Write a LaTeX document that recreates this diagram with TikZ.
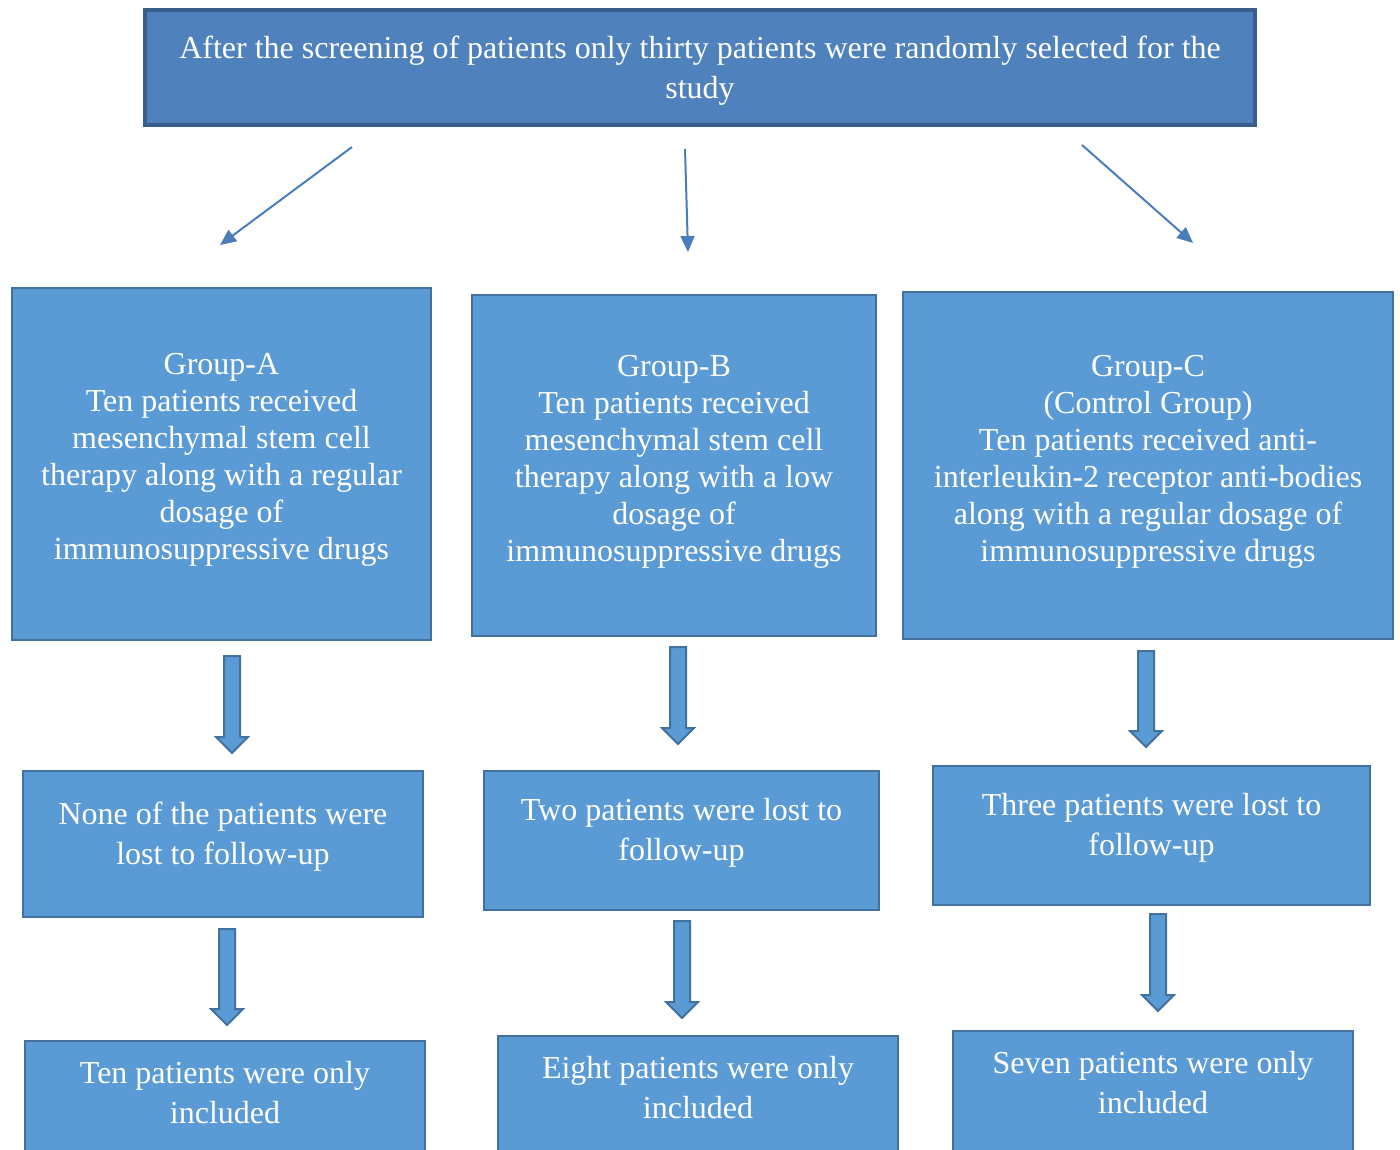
\documentclass[tikz,border=0pt]{standalone}
\usepackage{fontspec}
\setmainfont{Liberation Serif}
\usetikzlibrary{arrows.meta}

\definecolor{topfill}{HTML}{4F81BD}
\definecolor{topline}{HTML}{385D8A}
\definecolor{boxfill}{HTML}{5B9BD5}
\definecolor{boxline}{HTML}{41719C}
\definecolor{arrline}{HTML}{4A7EBB}

\begin{document}
\begin{tikzpicture}[
    x = 0.5pt, y = -0.5pt,
    topbox/.style = {
      rectangle, draw = topline, fill = topfill, line width = 2pt,
      text = white, align = center, inner sep = 0pt,
      font = \fontsize{16}{20}\selectfont
    },
    grpbox/.style = {
      rectangle, draw = boxline, fill = boxfill, line width = 1pt,
      text = white, align = center, inner sep = 0pt,
      font = \fontsize{16}{18.5}\selectfont
    },
    outbox/.style = {
      grpbox, font = \fontsize{16}{20}\selectfont
    },
    arr/.style    = {-{Triangle[length=8pt, width=7pt]}, draw = arrline, line width = 1pt},
    fatarr/.style = {draw = boxline, fill = boxfill, line width = 1pt, line join = miter}
  ]

  \clip (0,0) rectangle (1400,1149);

  % Study selection
  \node[topbox, minimum width = 555pt, minimum height = 57.5pt] (top) at (700,67.5)
    {\mbox{}\\[-6pt]After the screening of patients only thirty patients were randomly selected for the\\study};

  % Treatment groups
  \node[grpbox, minimum width = 209.5pt, minimum height = 176pt] (grpA) at (221.5,464)
    {Group-A\\Ten patients received\\mesenchymal stem cell\\therapy along with a regular\\dosage of\\immunosuppressive drugs\\[-11pt]\mbox{}};
  \node[grpbox, minimum width = 202pt, minimum height = 170.5pt] (grpB) at (674,465.5)
    {Group-B\\Ten patients received\\mesenchymal stem cell\\therapy along with a low\\dosage of\\immunosuppressive drugs\\[-11pt]\mbox{}};
  \node[grpbox, minimum width = 245pt, minimum height = 173.5pt] (grpC) at (1148,465.5)
    {Group-C\\(Control Group)\\Ten patients received anti-\\interleukin-2 receptor anti-bodies\\along with a regular dosage of\\immunosuppressive drugs\\[-11pt]\mbox{}};

  % Follow-up
  \node[outbox, minimum width = 200pt, minimum height = 73pt] (lostA) at (223,844)
    {None of the patients were\\lost to follow-up\\[-9pt]\mbox{}};
  \node[outbox, minimum width = 197.5pt, minimum height = 69.5pt] (lostB) at (681.5,840.5)
    {Two patients were lost to\\follow-up\\[-9pt]\mbox{}};
  \node[outbox, minimum width = 218.5pt, minimum height = 69.5pt] (lostC) at (1151.5,835.5)
    {Three patients were lost to\\follow-up\\[-9pt]\mbox{}};

  % Included patients
  \node[outbox, minimum width = 200pt, minimum height = 61pt] (inclA) at (225,1102)
    {Ten patients were only\\included\\[-10pt]\mbox{}};
  \node[outbox, minimum width = 200pt, minimum height = 61pt] (inclB) at (698,1097)
    {Eight patients were only\\included\\[-10pt]\mbox{}};
  \node[outbox, minimum width = 200pt, minimum height = 61pt] (inclC) at (1153,1092)
    {Seven patients were only\\included\\[-10pt]\mbox{}};

  % Thin arrows from the selection box
  \foreach \n/\sx/\sy/\ex/\ey in {A/352/147/220/245, B/685/149/688/252, C/1082/145/1193/243} {
    \coordinate (from\n) at (\sx,\sy);
    \coordinate (to\n)   at (\ex,\ey);
    \draw[arr] (from\n) -- (to\n);
  }

  % Block arrows between the stages
  \foreach \x/\ya/\yb in {232/656/753, 678/647/744, 1146/651/747,
                          227/929/1025, 682/921/1018, 1158/914/1011} {
    \draw[fatarr] (\x-8,\ya) -- (\x+8,\ya) -- (\x+8,\yb-16) -- (\x+16,\yb-16)
      -- (\x,\yb) -- (\x-16,\yb-16) -- (\x-8,\yb-16) -- cycle;
  }

\end{tikzpicture}
\end{document}
